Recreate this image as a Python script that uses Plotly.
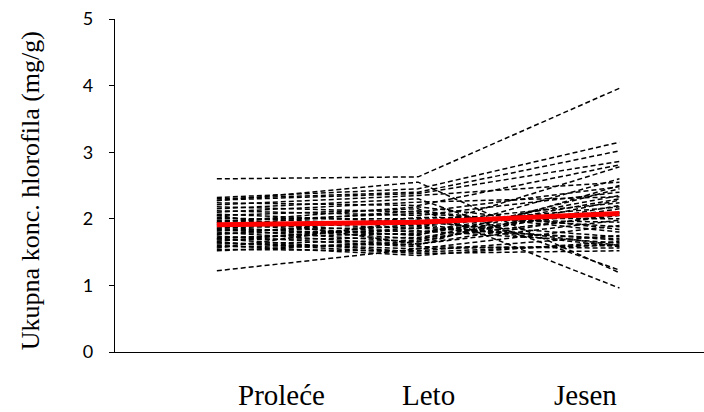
import plotly.graph_objects as go

seasons = ["Proleće", "Leto", "Jesen"]

# individual plants (values at Proleće, Leto, Jesen)
prolece = [2.60, 1.22, 2.32, 2.30, 2.27, 2.24, 2.21, 2.18, 2.15, 2.12, 2.10, 2.07, 2.05, 2.02, 2.00,
           1.98, 1.96, 1.94, 1.92, 1.90, 1.88, 1.86, 1.84, 1.82, 1.80, 1.78, 1.76, 1.74, 1.72, 1.70,
           1.68, 1.66, 1.64, 1.62, 1.60, 1.58, 1.56, 1.54, 1.52, 2.28, 1.95, 1.85, 1.70, 2.05, 1.65]
leto = [2.63, 1.55, 2.45, 2.40, 2.55, 2.20, 2.35, 2.10, 2.30, 2.05, 2.25, 1.95, 2.15, 1.90, 2.00,
        1.85, 2.08, 1.80, 1.75, 2.12, 1.70, 1.95, 1.65, 1.88, 1.60, 1.82, 2.02, 1.58, 1.78, 1.50,
        1.72, 1.92, 1.55, 1.68, 1.45, 1.62, 1.98, 1.52, 1.66, 2.38, 2.18, 1.76, 1.86, 1.62, 1.48]
jesen = [3.96, 1.60, 3.15, 3.02, 1.19, 2.81, 2.55, 2.48, 1.23, 2.40, 2.33, 2.24, 0.96, 2.18, 1.95,
         2.78, 1.88, 2.10, 2.60, 1.80, 2.05, 1.73, 2.28, 1.68, 2.50, 1.64, 2.00, 1.56, 2.35, 1.62,
         2.15, 1.58, 1.90, 2.45, 1.66, 2.08, 1.60, 1.75, 2.20, 2.86, 1.84, 2.30, 1.70, 1.98, 1.52]

# mean line (red)
mean_vals = [1.91, 1.95, 2.08]

y_ticks = [0, 1, 2, 3, 4, 5]
y_title = "Ukupna konc. hlorofila (mg/g)"

xpos = [0, 1, 2]

fig = go.Figure()
for a, b, c in zip(prolece, leto, jesen):
    fig.add_trace(go.Scatter(x=xpos, y=[a, b, c], mode="lines",
                             line=dict(color="black", width=1.5, dash="5px,3px"),
                             showlegend=False, hoverinfo="skip"))
fig.add_trace(go.Scatter(x=xpos, y=mean_vals, mode="lines",
                         line=dict(color="#ff0000", width=5),
                         showlegend=False))

# category labels placed below the axis
label_x = [0.32, 1.05, 1.83]
for lx, s in zip(label_x, seasons):
    fig.add_annotation(x=lx, xref="x", y=-0.177, yref="paper", text=s, showarrow=False,
                       xanchor="center", yanchor="bottom", borderpad=0, borderwidth=0,
                       font=dict(family="Liberation Serif", size=29, color="black"))

fig.add_annotation(x=-0.1443, xref="paper", y=0.483, yref="paper", text=y_title,
                   textangle=-90, showarrow=False, xanchor="center", yanchor="middle",
                   font=dict(family="Liberation Serif", size=26, color="black"))

fig.update_layout(
    width=704, height=412,
    margin=dict(l=115, r=0, t=19, b=60),
    paper_bgcolor="white", plot_bgcolor="white",
    xaxis=dict(range=[-0.506, 2.42], showline=True, linecolor="black", linewidth=1.3,
               showticklabels=False, ticks="", showgrid=False, zeroline=False),
    yaxis=dict(range=[0, 5], tickvals=y_ticks, showline=True, linecolor="black", linewidth=1.3,
               ticks="outside", ticklen=5, tickcolor="black", tickwidth=1.3,
               ticklabelstandoff=12,
               showgrid=False, zeroline=False,
               tickfont=dict(family="Lato", size=18, color="black")),
)

fig.write_html("out.html", config={"displayModeBar": False},
               post_script="document.body.style.margin='0';document.body.style.overflow='hidden';")
